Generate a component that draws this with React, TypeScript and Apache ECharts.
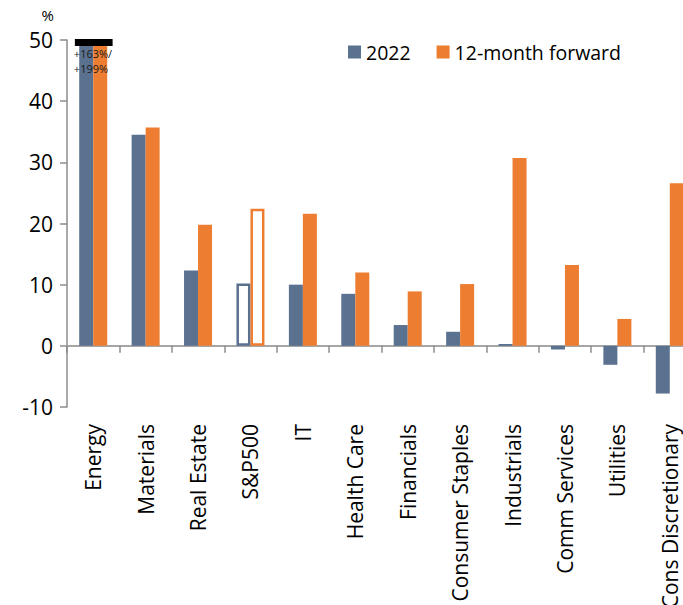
import React, { useEffect, useRef } from "react";
import * as echarts from "echarts";

const categories = [
  "Energy",
  "Materials",
  "Real Estate",
  "S&P500",
  "IT",
  "Health Care",
  "Financials",
  "Consumer Staples",
  "Industrials",
  "Comm Services",
  "Utilities",
  "Cons Discretionary",
];
const growth2022 = [163, 34.5, 12.3, 10.2, 10.0, 8.5, 3.4, 2.3, 0.3, -0.6, -3.1, -7.8];
const growthFwd = [199, 35.7, 19.8, 22.4, 21.6, 12.0, 8.9, 10.1, 30.7, 13.2, 4.4, 26.6];
const yTicks = { min: -10, max: 50, interval: 10 };
const highlightCategory = "S&P500";
const breakCategory = "Energy";

const BLUE = "#5b7190";
const ORANGE = "#ed7d31";
const FONT = "Open Sans";

export default function App() {
  const ref = useRef<HTMLDivElement>(null);
  useEffect(() => {
    if (!ref.current) return;
    const chart = echarts.init(ref.current, null, { renderer: "svg" });
    const mk = (vals: number[], color: string) =>
      vals.map((v, i) =>
        categories[i] === highlightCategory
          ? { value: v, itemStyle: { color: "#ffffff", borderColor: color, borderWidth: 2.5 } }
          : v
      );
    const bi = categories.indexOf(breakCategory);
    chart.setOption({
      animation: false,
      textStyle: { fontFamily: FONT },
      grid: {
        left: 67,
        top: 40,
        right: -13,
        bottom: 198,
        containLabel: false,
        outerBoundsMode: "none",
      },
      legend: {
        data: ["2022", "12-month forward"],
        left: 343,
        top: 37,
        itemWidth: 13,
        itemHeight: 13,
        itemGap: 26,
        textStyle: { fontFamily: FONT, fontSize: 19.5, color: "#000" },
        icon: "rect",
      },
      xAxis: {
        type: "category",
        data: categories,
        axisLine: { onZero: true, lineStyle: { color: "#a6a6a6", width: 2 } },
        axisTick: { show: true, length: 7, lineStyle: { color: "#8c8c8c", width: 1.5 } },
        axisLabel: {
          rotate: 90,
          margin: 17,
          fontSize: 21,
          color: "#000",
          fontFamily: FONT,
          interval: 0,
        },
      },
      yAxis: {
        type: "value",
        min: yTicks.min,
        max: yTicks.max,
        interval: yTicks.interval,
        name: "%",
        nameLocation: "end",
        nameGap: 18,
        nameTextStyle: { fontSize: 15, color: "#000", align: "right", padding: [0, 13, 0, 0], fontFamily: FONT },
        splitLine: { show: false },
        axisLine: { show: true, lineStyle: { color: "#8c8c8c", width: 1.5 } },
        axisTick: { show: true, length: 7, lineStyle: { color: "#8c8c8c", width: 1.5 } },
        axisLabel: { fontSize: 21, color: "#000", margin: 14, fontFamily: FONT },
      },
      series: [
        {
          name: "2022",
          type: "bar",
          data: mk(growth2022, BLUE),
          itemStyle: { color: BLUE },
          barWidth: 14,
          barGap: "0%",
          clip: true,
        },
        {
          name: "12-month forward",
          type: "bar",
          data: mk(growthFwd, ORANGE),
          itemStyle: { color: ORANGE },
          barWidth: 14,
          barGap: "0%",
          clip: true,
        },
        {
          name: "break",
          type: "custom",
          z: 10,
          data: [[bi, yTicks.max]],
          renderItem: (params: any, api: any) => {
            const pt = api.coord([api.value(0), api.value(1)]);
            const w = api.size([1, 0])[0];
            const x0 = pt[0] - w * 0.35;
            return {
              type: "group",
              children: [
                {
                  type: "rect",
                  shape: { x: x0, y: pt[1] - 1, width: w * 0.72, height: 7 },
                  style: { fill: "#000" },
                },
                {
                  type: "text",
                  style: {
                    text: `+${growth2022[bi]}%/`,
                    x: x0 - 1,
                    y: pt[1] + 13,
                    fontSize: 11,
                    fontFamily: FONT,
                    fill: "#1a1a1a",
                    verticalAlign: "middle",
                  },
                },
                {
                  type: "text",
                  style: {
                    text: `+${growthFwd[bi]}%`,
                    x: x0 - 1,
                    y: pt[1] + 28,
                    fontSize: 11,
                    fontFamily: FONT,
                    fill: "#1a1a1a",
                    verticalAlign: "middle",
                  },
                },
              ],
            };
          },
        },
      ],
    });
    return () => chart.dispose();
  }, []);
  return (
    <div
      ref={ref}
      style={{ position: "absolute", left: 0, top: 0, width: 683, height: 605 }}
    />
  );
}
